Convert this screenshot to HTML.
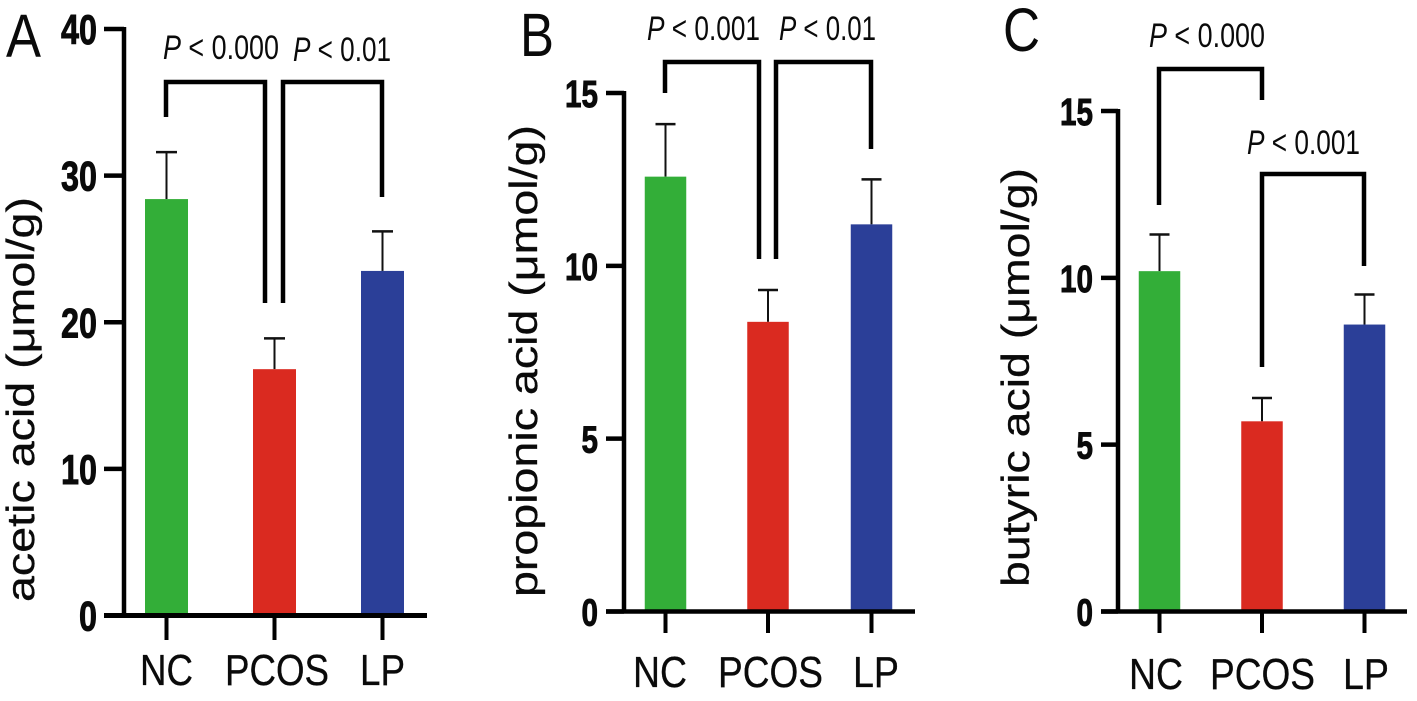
<!DOCTYPE html>
<html lang="en">
<head>
<meta charset="utf-8">
<title>Short-chain fatty acids by group</title>
<style>
html,body{margin:0;padding:0;background:#fff;}
svg{display:block;}
text{font-family:"Liberation Sans",Arial,sans-serif;fill:#0a0a0a;}
</style>
</head>
<body>
<svg id="chart" xmlns="http://www.w3.org/2000/svg" width="1417" height="701" viewBox="0 0 1417 701"></svg>
<script>
// ---- data ----
const categories = ['NC', 'PCOS', 'LP'];
const barColors = ['#33ae38', '#da2a20', '#2b3f98'];

const aceticMeans = [28.4, 16.8, 23.5];
const aceticErrors = [3.2, 2.1, 2.7];
const aceticTicks = [0, 10, 20, 30, 40];

const propionicMeans = [12.58, 8.38, 11.2];
const propionicErrors = [1.52, 0.92, 1.3];
const propionicTicks = [0, 5, 10, 15];

const butyricMeans = [10.2, 5.7, 8.6];
const butyricErrors = [1.1, 0.7, 0.9];
const butyricTicks = [0, 5, 10, 15];

// ---- layout ----
const panels = [
  { id:'a', letter:'A', means:aceticMeans, errors:aceticErrors, ticks:aceticTicks,
    yLabel:'acetic acid (\u03BCmol/g)',
    axisX:124, y0:615.5, yMax:29, xEnd:427, tickLeft:104, tickBottom:640, xAxisW:5,
    centers:[166.5,274.5,382.5], barW:43, capW:21,
    letterBox:{x:6,y:57,w:35}, tickFont:42, tickCharW:18, tickRight:97, tickDy:15,
    yLabelBox:{x:34,bottom:602,top:197},
    catBase:685, catSpans:[[140,53],[225,104],[360,45]],
    brackets:[
      {pts:[[166,117],[166,82],[265,82],[265,303]], label:'0.000', tx:163, tw:116, ty:59},
      {pts:[[283,303],[283,82],[382,82],[382,197]], label:'0.01', tx:293, tw:98, ty:61}
    ]},
  { id:'b', letter:'B', means:propionicMeans, errors:propionicErrors, ticks:propionicTicks,
    yLabel:'propionic acid (\u03BCmol/g)',
    axisX:624, y0:611.5, yMax:93, xEnd:915, tickLeft:606, tickBottom:633, xAxisW:4.5,
    centers:[665.5,768,871.5], barW:41.5, capW:20,
    letterBox:{x:520,y:56,w:34}, tickFont:38, tickCharW:16.5, tickRight:598, tickDy:14,
    yLabelBox:{x:537,bottom:597,top:125},
    catBase:687, catSpans:[[633,54],[718,105],[853,46]],
    brackets:[
      {pts:[[665,93],[665,62],[759,62],[759,259]], label:'0.001', tx:647, tw:113, ty:40},
      {pts:[[776,259],[776,62],[871,62],[871,149]], label:'0.01', tx:779, tw:97, ty:40}
    ]},
  { id:'c', letter:'C', means:butyricMeans, errors:butyricErrors, ticks:butyricTicks,
    yLabel:'butyric acid (\u03BCmol/g)',
    axisX:1118, y0:611.5, yMax:111, xEnd:1407, tickLeft:1101, tickBottom:633, xAxisW:4.5,
    centers:[1159.5,1262,1364.5], barW:41.5, capW:20,
    letterBox:{x:1003,y:51,w:37}, tickFont:38, tickCharW:16.5, tickRight:1093, tickDy:14,
    yLabelBox:{x:1029,bottom:587,top:168},
    catBase:689, catSpans:[[1129,54],[1210,105],[1343,46]],
    brackets:[
      {pts:[[1159,205],[1159,69],[1262,69],[1262,100]], label:'0.000', tx:1149, tw:116, ty:47},
      {pts:[[1262,367],[1262,174],[1364,174],[1364,266]], label:'0.001', tx:1247, tw:113, ty:154}
    ]}
];

const NS = 'http://www.w3.org/2000/svg';
const root = document.getElementById('chart');

function make(parent, tag, attrs, content) {
  const node = document.createElementNS(NS, tag);
  for (const k in attrs) node.setAttribute(k, attrs[k]);
  if (content !== undefined) node.textContent = content;
  parent.appendChild(node);
  return node;
}

panels.forEach(function (p) {
  const yScale = function (v) {
    const top = p.ticks[p.ticks.length - 1];
    return p.y0 - (v / top) * (p.y0 - p.yMax);
  };

  const g = make(root, 'g', {});
  
  

  const letter = make(g, 'text', { x:p.letterBox.x, y:p.letterBox.y, 'font-size':61, textLength:p.letterBox.w, lengthAdjust:'spacingAndGlyphs' }, p.letter);
  
  

  // bars and error bars
  categories.forEach(function (cat, i) {
    const cx = p.centers[i];
    const top = yScale(p.means[i]);
    const errTop = yScale(p.means[i] + p.errors[i]);

    const stem = make(g, 'line', { x1:cx, x2:cx, y1:errTop, y2:top, stroke:'#111', 'stroke-width':2 });
    
    

    const cap = make(g, 'line', { x1:cx - p.capW / 2, x2:cx + p.capW / 2, y1:errTop, y2:errTop, stroke:'#111', 'stroke-width':2.5 });
    
    

    const bar = make(g, 'rect', { x:cx - p.barW / 2, y:top, width:p.barW, height:p.y0 - top, fill:barColors[i] });
    
    

    const tick = make(g, 'line', { x1:cx, x2:cx, y1:p.y0, y2:p.tickBottom, stroke:'#000', 'stroke-width':4 });
    
    

    const catLabel = make(g, 'text', { x:p.catSpans[i][0], y:p.catBase, 'font-size':44, stroke:'#0a0a0a', 'stroke-width':0.3, textLength:p.catSpans[i][1], lengthAdjust:'spacingAndGlyphs' }, cat);
    
    
  });

  // y axis
  const yAxis = make(g, 'line', { x1:p.axisX, x2:p.axisX, y1:yScale(p.ticks[p.ticks.length - 1]) - 2, y2:p.y0, stroke:'#000', 'stroke-width':4.5 });
  
  

  p.ticks.forEach(function (t) {
    const y = yScale(t);
    const tick = make(g, 'line', { x1:p.tickLeft, x2:p.axisX, y1:y, y2:y, stroke:'#000', 'stroke-width':4.5 });
    
    

    const s = String(t);
    const w = s.length * p.tickCharW;
    const label = make(g, 'text', { x:p.tickRight - w, y:y + p.tickDy, 'font-size':p.tickFont, 'font-weight':'bold', stroke:'#0a0a0a', 'stroke-width':0.9, textLength:w, lengthAdjust:'spacingAndGlyphs' }, s);
    
    
  });

  // x axis
  const xAxis = make(g, 'line', { x1:p.tickLeft, x2:p.xEnd, y1:p.y0, y2:p.y0, stroke:'#000', 'stroke-width':p.xAxisW });
  
  

  // y axis title
  const box = p.yLabelBox;
  const title = make(g, 'text', { transform:'translate(' + box.x + ' ' + box.bottom + ') rotate(-90)', x:0, y:0, 'font-size':39, stroke:'#0a0a0a', 'stroke-width':0.3, textLength:box.bottom - box.top, lengthAdjust:'spacingAndGlyphs' }, p.yLabel);
  
  

  // significance brackets
  p.brackets.forEach(function (b, i) {
    const path = make(g, 'polyline', { points:b.pts.map(function (q) { return q.join(','); }).join(' '), fill:'none', stroke:'#000', 'stroke-width':4.5, 'stroke-linejoin':'miter' });
    
    

    const txt = make(g, 'text', { x:b.tx, y:b.ty, 'font-size':34, textLength:b.tw, lengthAdjust:'spacingAndGlyphs' });
    
    
    make(txt, 'tspan', { 'font-style':'italic' }, 'P');
    make(txt, 'tspan', {}, ' < ' + b.label);
  });
});
</script>
</body>
</html>
